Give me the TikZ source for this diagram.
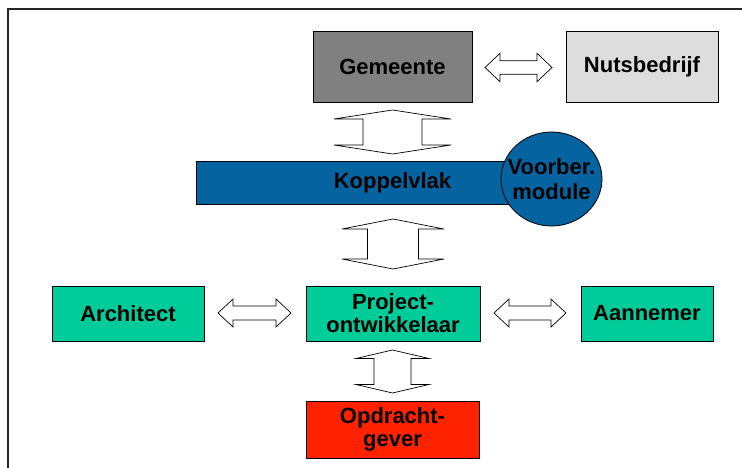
\documentclass[tikz,border=0pt]{standalone}
\usepackage{fontspec}
\setmainfont{Liberation Sans}
\usetikzlibrary{shapes.geometric}
\definecolor{gemgray}{RGB}{128,128,128}
\definecolor{nutsgray}{RGB}{221,221,221}
\definecolor{kblue}{RGB}{5,99,160}
\definecolor{pgreen}{RGB}{0,204,153}
\definecolor{ored}{RGB}{255,34,0}
% horizontal double block arrow: tipL, tipR, y, head length, shaft half, head half
\newcommand\hblock[6]{%
  \draw[blockarrow] (#1,#3) -- (#1+#4,#3-#6) -- (#1+#4,#3-#5) -- (#2-#4,#3-#5) -- (#2-#4,#3-#6)
    -- (#2,#3) -- (#2-#4,#3+#6) -- (#2-#4,#3+#5) -- (#1+#4,#3+#5) -- (#1+#4,#3+#6) -- cycle;}
% vertical double block arrow: tipT, tipB, x, head length, shaft half, head half
\newcommand\vblock[6]{%
  \draw[blockarrow] (#3,#1) -- (#3+#6,#1+#4) -- (#3+#5,#1+#4) -- (#3+#5,#2-#4) -- (#3+#6,#2-#4)
    -- (#3,#2) -- (#3-#6,#2-#4) -- (#3-#5,#2-#4) -- (#3-#5,#1+#4) -- (#3-#6,#1+#4) -- cycle;}
\begin{document}
\begin{tikzpicture}[x=1pt,y=-1pt,
  box/.style={draw=black,line width=0.8pt,inner sep=0pt,align=center,
    font=\fontsize{22}{23}\selectfont\bfseries},
  blockarrow/.style={draw=black,fill=white,line width=0.7pt,line join=miter}]
\useasboundingbox (0,0) rectangle (742,468);
\fill[white] (0,0) rectangle (742,468);
\draw[line width=1.5pt,black!85] (8,468) -- (8,9) -- (742,9);

% boxes
\node[box,fill=gemgray,minimum width=159pt,minimum height=71pt] (gem) at (392.5,66.5) {Gemeente};
\node[box,fill=nutsgray,minimum width=152pt,minimum height=71pt] (nuts) at (642,66.5) {Nutsbedrijf};
\node[box,fill=kblue,minimum width=393pt,minimum height=43pt] (kop) at (392.5,182.5) {Koppelvlak};
\node[box,fill=kblue,ellipse,minimum width=101pt,minimum height=94pt] (voor) at (551.5,179) {};
\node[font=\fontsize{22}{25}\selectfont\bfseries,align=center,inner sep=0pt] (voort) at (voor.center) {Voorber.\\module};
\node[box,fill=pgreen,minimum width=152pt,minimum height=55pt] (arch) at (128,313.5) {Architect};
\node[box,fill=pgreen,minimum width=174pt,minimum height=55pt] (proj) at (393,313.5) {Project-\\ontwikkelaar};
\node[box,fill=pgreen,minimum width=132pt,minimum height=55pt] (aann) at (647,313.5) {Aannemer};
\node[box,fill=ored,minimum width=173pt,minimum height=57pt] (opdr) at (392.5,429.5) {Opdracht-\\gever};

% block arrows
\hblock{485}{552}{67.5}{15}{6.7}{14.2}
\vblock{110}{154}{392.5}{9}{29.5}{58.5}
\vblock{219}{269}{393}{10}{25.5}{51}
\vblock{350}{393}{392.5}{8.5}{18.5}{36.5}
\hblock{218}{291}{313}{15}{7}{14}
\hblock{494}{566}{313}{15}{7}{14}
\end{tikzpicture}
\end{document}
